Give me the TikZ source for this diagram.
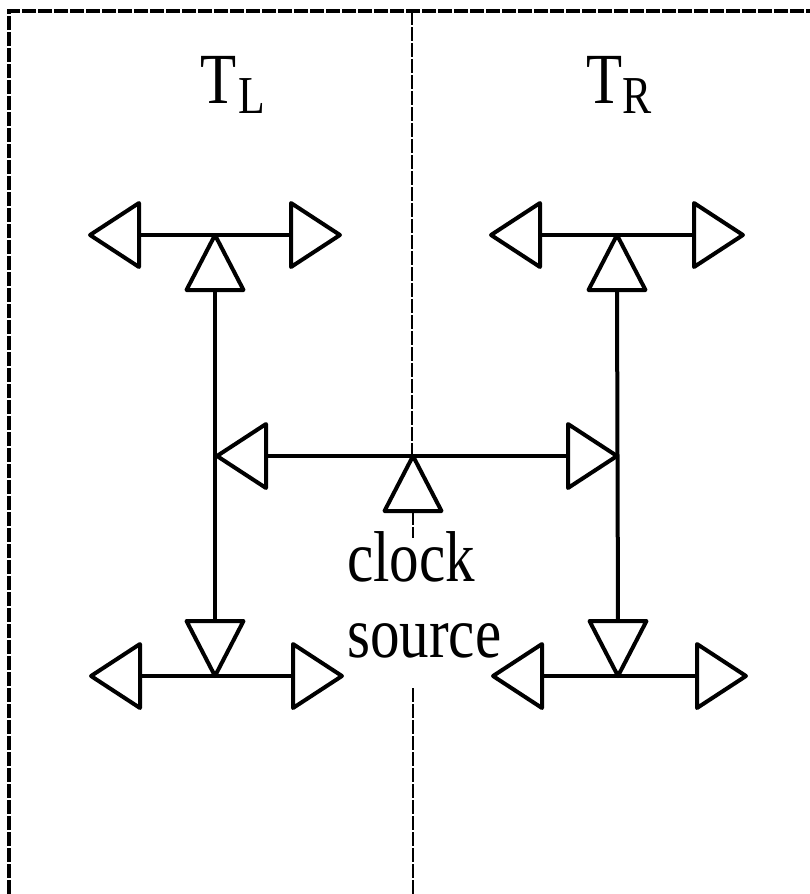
\documentclass[tikz,border=0pt]{standalone}
\usepackage{fontspec}
\usepackage{tikz}
\usetikzlibrary{shapes.geometric}
\newfontfamily\labelfont[FakeStretch=0.82]{Liberation Serif}
\tikzset{
  buf/.style={draw,line width=3pt,isosceles triangle,isosceles triangle stretches,inner sep=0pt,outer sep=0pt,line join=round},
  bufh/.style={buf,minimum height=36.75pt,minimum width=48pt},
  bufv/.style={buf,minimum height=41.25pt,minimum width=42.75pt},
  wire/.style={line width=3pt},
  frame/.style={line width=2.4pt,dash pattern=on 10.5pt off 1.5pt},
  centreline/.style={line width=1.6pt,dash pattern=on 10.5pt off 1.5pt},
  lbl/.style={inner sep=0pt,font=\labelfont\fontsize{54}{54}\selectfont}
}
\begin{document}
\begin{tikzpicture}[x=0.75pt,y=0.75pt,yscale=-1,xscale=1]
\useasboundingbox (0,0) rectangle (810,894);

%Frame and centre line
\coordinate (fbl) at (9,894);
\coordinate (ftl) at (9,11);
\coordinate (ftr) at (810,11);
\coordinate (ctop) at (412,11);
\coordinate (cmid) at (412,456);
\coordinate (clow) at (413,688);
\coordinate (cbot) at (413,894);
\draw [frame] (fbl) -- (ftl) -- (ftr);
\draw [centreline] (ctop) -- (cmid);
\draw [centreline] (clow) -- (cbot);

%Top left
\node (tll) [bufh,shape border rotate=180,anchor=apex] at (90,235) {};
\node (tlr) [bufh,anchor=apex] at (340,235) {};
\node (tlu) [bufv,shape border rotate=90,anchor=apex] at (215,235) {};
\draw [wire] (tll.lower side) -- (tlr.lower side);

%Top right
\node (trl) [bufh,shape border rotate=180,anchor=apex] at (491,235) {};
\node (trr) [bufh,anchor=apex] at (743,235) {};
\node (tru) [bufv,shape border rotate=90,anchor=apex] at (617,235) {};
\draw [wire] (trl.lower side) -- (trr.lower side);

%Bottom left
\node (bll) [bufh,shape border rotate=180,anchor=apex] at (91,676) {};
\node (blr) [bufh,anchor=apex] at (342,676) {};
\node (bld) [bufv,shape border rotate=270,anchor=apex] at (215,676) {};
\draw [wire] (bll.lower side) -- (blr.lower side);

%Bottom right
\node (brl) [bufh,shape border rotate=180,anchor=apex] at (493,676) {};
\node (brr) [bufh,anchor=apex] at (746,676) {};
\node (brd) [bufv,shape border rotate=270,anchor=apex] at (618,676) {};
\draw [wire] (brl.lower side) -- (brr.lower side);

%Centre
\node (cl) [bufh,shape border rotate=180,anchor=apex] at (217,456) {};
\node (cr) [bufh,anchor=apex] at (617,456) {};
\node (cu) [bufv,shape border rotate=90,anchor=apex] at (413,456) {};
\coordinate (cstub) at (cu.lower side |- 0,538);
\draw [wire] (cl.lower side) -- (cr.lower side);
\draw [centreline] (cu.lower side) -- (cstub);

%Vertical trunks
\draw [wire] (tlu.lower side) -- (bld.lower side);
\draw [wire] (tru.lower side) -- (brd.lower side);

% Text Node
\node (tl) [lbl,anchor=base west] at (200,103) {T\kern1.5pt\raisebox{-8pt}{\fontsize{40}{40}\selectfont L}};
% Text Node
\node (tr) [lbl,anchor=base west] at (586,103) {T\raisebox{-8pt}{\fontsize{40}{40}\selectfont R}};
% Text Node
\node (clk) [lbl,anchor=base west] at (347,581) {clock};
% Text Node
\node (src) [lbl,anchor=base west] at (347,657) {source};

\end{tikzpicture}
\end{document}
